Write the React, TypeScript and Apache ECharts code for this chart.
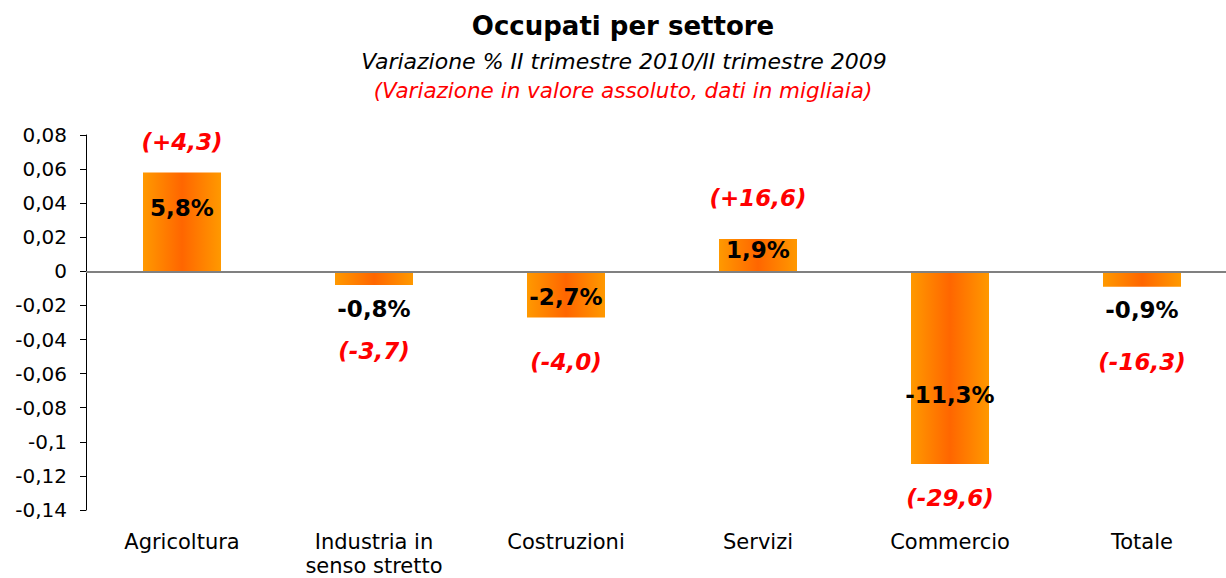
import React, { useEffect, useRef } from "react";
import * as echarts from "echarts";

const categories = ["Agricoltura", "Industria in\nsenso stretto", "Costruzioni", "Servizi", "Commercio", "Totale"];
const variation = [0.058, -0.008, -0.027, 0.019, -0.113, -0.009];
const pctLabels = ["5,8%", "-0,8%", "-2,7%", "1,9%", "-11,3%", "-0,9%"];
const absLabels = ["(+4,3)", "(-3,7)", "(-4,0)", "(+16,6)", "(-29,6)", "(-16,3)"];
// label anchors, in axis units
const pctAnchors = [0.0369, -0.0218, -0.015, 0.0126, -0.0728, -0.0226];
const absAnchors = [0.0759, -0.047, -0.053, 0.0428, -0.133, -0.0529];

const yMin = -0.14;
const yMax = 0.08;
const yStep = 0.02;

export default function App() {
  const ref = useRef<HTMLDivElement>(null);
  useEffect(() => {
    if (!ref.current) return;
    const chart = echarts.init(ref.current, undefined, { renderer: "svg" });
    const grad = new echarts.graphic.LinearGradient(0, 0, 1, 0, [
      { offset: 0, color: "#FF9900" },
      { offset: 0.5, color: "#FF6600" },
      { offset: 1, color: "#FF9900" },
    ]);
    chart.setOption({
      animation: false,
      backgroundColor: "#ffffff",
      title: [
        {
          text: "Occupati per settore",
          left: 618,
          top: 8,
          textAlign: "center",
          textStyle: { fontFamily: "DejaVu Sans", fontWeight: "bold", fontSize: 26, color: "#000" },
        },
        {
          text: "Variazione % II trimestre 2010/II trimestre 2009",
          left: 619,
          top: 45,
          textAlign: "center",
          textStyle: { fontFamily: "DejaVu Sans", fontStyle: "italic", fontWeight: "normal", fontSize: 22, color: "#000" },
        },
        {
          text: "(Variazione in valore assoluto, dati in migliaia)",
          left: 618,
          top: 74,
          textAlign: "center",
          textStyle: { fontFamily: "DejaVu Sans", fontStyle: "italic", fontWeight: "normal", fontSize: 21.5, color: "#FF0000" },
        },
      ],
      grid: { left: 86, right: -12, top: 135, height: 375, outerBoundsMode: "none", containLabel: false },
      xAxis: {
        type: "category",
        data: categories,
        axisLine: { show: false, onZero: false },
        axisTick: { show: false },
        axisLabel: {
          margin: 20,
          color: "#000",
          fontFamily: "DejaVu Sans",
          fontSize: 21,
          lineHeight: 24,
          interval: 0,
        },
        splitLine: { show: false },
      },
      yAxis: {
        type: "value",
        min: yMin,
        max: yMax,
        interval: yStep,
        axisLine: { show: true, lineStyle: { color: "#000", width: 1 } },
        axisTick: { show: true, length: 6, lineStyle: { color: "#000" } },
        splitLine: { show: false },
        axisLabel: {
          color: "#000",
          fontFamily: "DejaVu Sans",
          fontSize: 20,
          margin: 19,
          formatter: (v: number) => String(Math.round(v * 100) / 100).replace(".", ","),
        },
      },
      series: [
        {
          type: "bar",
          data: variation,
          barWidth: 78,
          itemStyle: { color: grad },
          markLine: {
            silent: true,
            symbol: "none",
            label: { show: false },
            lineStyle: { color: "#808080", width: 2, type: "solid" },
            data: [{ yAxis: 0 }],
          },
          z: 2,
        },
        {
          type: "scatter",
          data: pctAnchors,
          symbolSize: 0,
          z: 5,
          itemStyle: { opacity: 1 },
          label: {
            show: true,
            position: "inside",
            formatter: (p: any) => pctLabels[p.dataIndex],
            fontFamily: "DejaVu Sans",
            fontWeight: "bold",
            fontSize: 23,
            color: "#000",
            opacity: 1,
          },
        },
        {
          type: "scatter",
          data: absAnchors,
          symbolSize: 0,
          z: 5,
          itemStyle: { opacity: 1 },
          label: {
            show: true,
            position: "inside",
            formatter: (p: any) => absLabels[p.dataIndex],
            fontFamily: "DejaVu Sans",
            fontWeight: "bold",
            fontStyle: "italic",
            fontSize: 23,
            color: "#FF0000",
            opacity: 1,
          },
        },
      ],
    });
    return () => chart.dispose();
  }, []);
  return <div ref={ref} style={{ position: "absolute", left: 0, top: 0, width: 1226, height: 578 }} />;
}
